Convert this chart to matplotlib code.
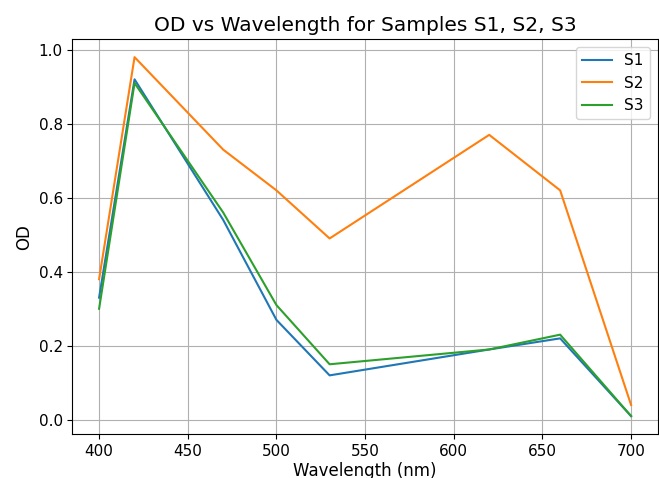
import matplotlib
matplotlib.use("Agg")
import matplotlib.pyplot as plt

# --- Data ---
wavelength = [400, 420, 470, 500, 530, 620, 660, 700]
s1 = [0.33, 0.92, 0.54, 0.27, 0.12, 0.19, 0.22, 0.01]
s2 = [0.38, 0.98, 0.73, 0.62, 0.49, 0.77, 0.62, 0.04]
s3 = [0.30, 0.91, 0.56, 0.31, 0.15, 0.19, 0.23, 0.01]

fig = plt.figure(figsize=(6.59, 4.78), dpi=100)
ax = fig.add_axes([0.110, 0.092, 0.888, 0.826])

ax.plot(wavelength, s1, label="S1")
ax.plot(wavelength, s2, label="S2")
ax.plot(wavelength, s3, label="S3")

ax.set_title("OD vs Wavelength for Samples S1, S2, S3", fontsize=14.5)
ax.set_xlabel("Wavelength (nm)", fontsize=12, labelpad=2)
ax.set_ylabel("OD", fontsize=12)
ax.tick_params(labelsize=11)
ax.grid(True)
ax.legend(loc="upper right", fontsize=11)

fig.savefig("out.png", dpi=100)
